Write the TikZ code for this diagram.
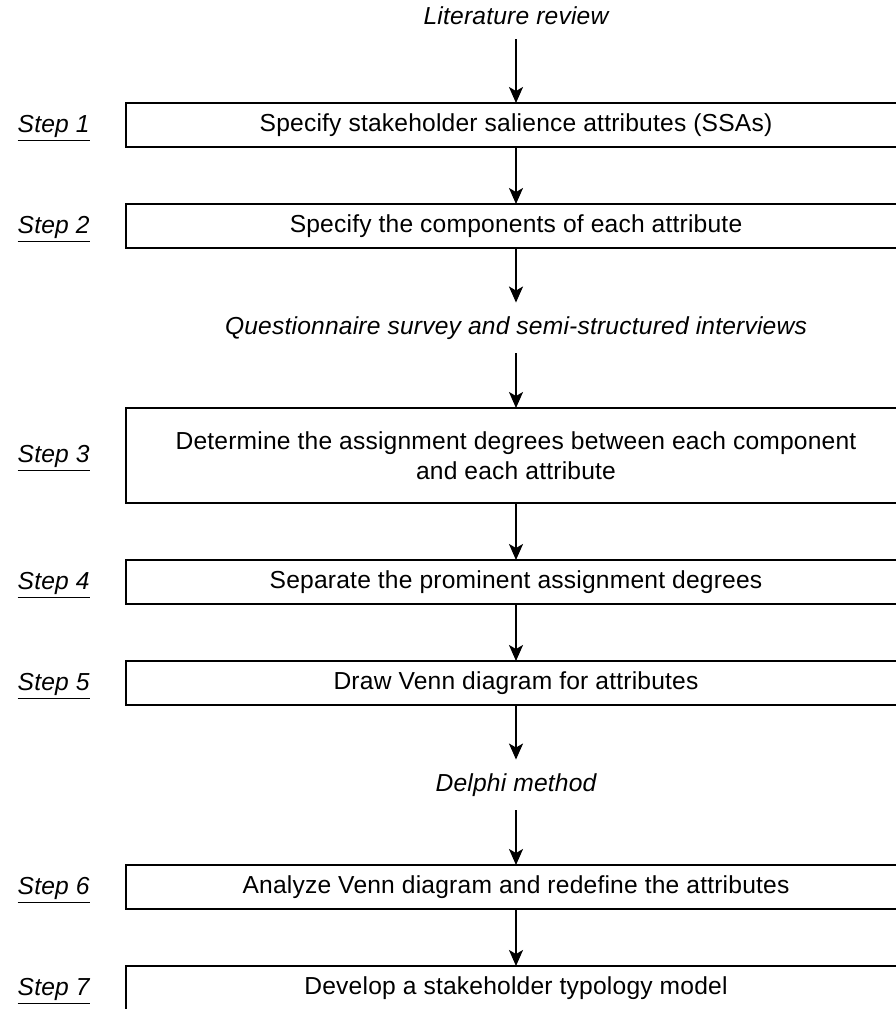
\documentclass[tikz,border=0pt]{standalone}
\usepackage{fontspec}
\setmainfont{Liberation Sans}[LetterSpace=0.8]
\usetikzlibrary{arrows.meta, positioning, calc}
\definecolor{ink}{HTML}{000000}
\tikzset{
  stepbox/.style   = {rectangle, draw=ink, line width=1pt, fill=white,
                      minimum width=390pt, minimum height=22pt, align=center,
                      font=\fontsize{12.3}{15}\selectfont, inner sep=0pt, outer sep=0pt},
  method/.style    = {font=\fontsize{12.3}{15}\selectfont\itshape,
                      inner xsep=0pt, inner ysep=7pt, outer sep=0pt},
  steplabel/.style = {font=\fontsize{12.3}{15}\selectfont\itshape, inner sep=0pt, yshift=-1.5pt},
  flow/.style      = {-{Stealth[length=8pt, width=7pt, inset=2pt]}, line width=1pt, draw=ink},
}

\begin{document}
\begin{tikzpicture}[x=0.5pt, y=-0.5pt, node distance=28.5pt]
\path[use as bounding box, clip] (0,0) rectangle (896,1009);

% ---- Steps ----
\node[stepbox] (s1) at (516,125) {Specify stakeholder salience attributes (SSAs)};
\node[stepbox, below=of s1] (s2) {Specify the components of each attribute};
\node[stepbox, below=80pt of s2, minimum height=47.5pt] (s3)
  {Determine the assignment degrees between each component\\ and each attribute};
\node[stepbox, below=of s3] (s4) {Separate the prominent assignment degrees};
\node[stepbox, below=of s4] (s5) {Draw Venn diagram for attributes};
\node[stepbox, below=80pt of s5] (s6) {Analyze Venn diagram and redefine the attributes};
\node[stepbox, below=of s6] (s7) {Develop a stakeholder typology model};

% ---- Step labels ----
\node[steplabel, left=18pt of s1] (l1) {\underline{Step 1}};
\node[steplabel, left=18pt of s2] (l2) {\underline{Step 2}};
\node[steplabel, left=18pt of s3] (l3) {\underline{Step 3}};
\node[steplabel, left=18pt of s4] (l4) {\underline{Step 4}};
\node[steplabel, left=18pt of s5] (l5) {\underline{Step 5}};
\node[steplabel, left=18pt of s6] (l6) {\underline{Step 6}};
\node[steplabel, left=18pt of s7] (l7) {\underline{Step 7}};

% ---- Methods ----
\node[method] (lit) at (516,16) {Literature review};
\node[method] (survey) at ($(s2.south)!0.5!(s3.north)$)
  {Questionnaire survey and semi-structured interviews};
\node[method] (delphi) at ($(s5.south)!0.5!(s6.north)$) {Delphi method};

% ===== Arrows =====
\draw[flow] (lit) -- (s1);
\draw[flow] (s1) -- (s2);
\draw[flow] (s2) -- (survey);
\draw[flow] (survey) -- (s3);
\draw[flow] (s3) -- (s4);
\draw[flow] (s4) -- (s5);
\draw[flow] (s5) -- (delphi);
\draw[flow] (delphi) -- (s6);
\draw[flow] (s6) -- (s7);

\end{tikzpicture}
\end{document}
